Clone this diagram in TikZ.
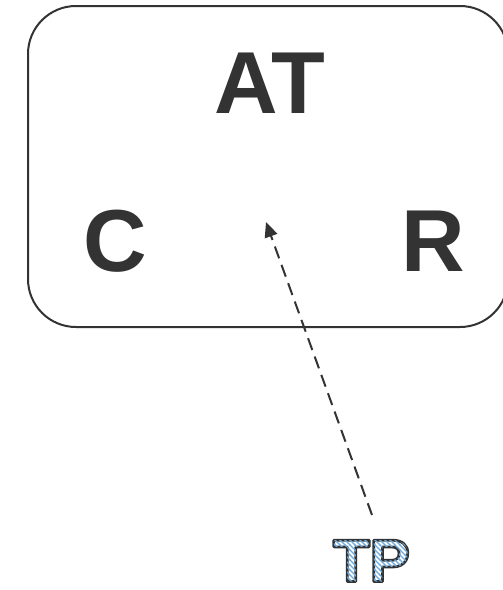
\documentclass[tikz,border=0pt]{standalone}
\usepackage{fontspec}
\setmainfont{Liberation Sans}
\newfontfamily\boldsans{Liberation Sans Bold}
\usetikzlibrary{arrows.meta}
\definecolor{ink}{RGB}{51,51,51}
\definecolor{hatchblue}{RGB}{110,170,220}
\pgfdeclarepatternformonly{hatchnw}{\pgfqpoint{-1pt}{-1pt}}{\pgfqpoint{6pt}{6pt}}{\pgfqpoint{5pt}{5pt}}{%
  \pgfsetlinewidth{1.3pt}%
  \pgfpathmoveto{\pgfqpoint{-1pt}{6pt}}%
  \pgfpathlineto{\pgfqpoint{6pt}{-1pt}}%
  \pgfusepath{stroke}%
}
\makeatletter
\newcommand{\mydirectinvoke}[1]{\special{pdf:literal direct #1}}
\newcommand{\outlinetext}[1]{{%
  \let\pgfsys@invoke\mydirectinvoke
  \pgfsetfillpattern{hatchnw}{hatchblue}%
  \special{pdf:literal direct 0.2 0.2 0.2 RG 2.8 w 1 j 2 Tr}#1\special{pdf:literal direct 0 Tr}}}
\makeatother
\tikzset{
  frame/.style={draw=ink, line width=2pt, rounded corners=48pt, inner sep=0pt},
  bigletter/.style={text=ink, font=\boldsans\fontsize{88}{88}\selectfont, anchor=base, inner sep=0pt},
  pointer/.style={draw=ink, line width=2pt, dash pattern=on 12.5pt off 7pt, -{Triangle[length=15pt,width=13pt]}},
}
\begin{document}
\begin{tikzpicture}[x=1pt,y=1pt]
\useasboundingbox (0,0) rectangle (503,-590);
\node[frame, minimum width=480pt, minimum height=321pt] (box) at (268,-166.5) {};
\node[bigletter] (at) at (270,-113) {AT};
\node[bigletter] (c) at (115,-271) {C};
\node[bigletter] (r) at (433,-271) {R};
\coordinate (tip) at (266,-222);
\coordinate (tail) at (372,-515);
\draw[pointer] (tail) -- (tip);
\begin{scope}
\pgfsetfillpattern{hatchnw}{hatchblue}
\node[anchor=base, inner sep=0pt, font=\boldsans\fontsize{60}{60}\selectfont] (tp) at (371.5,-581.5) {\outlinetext{TP}};
\end{scope}
\end{tikzpicture}
\end{document}
